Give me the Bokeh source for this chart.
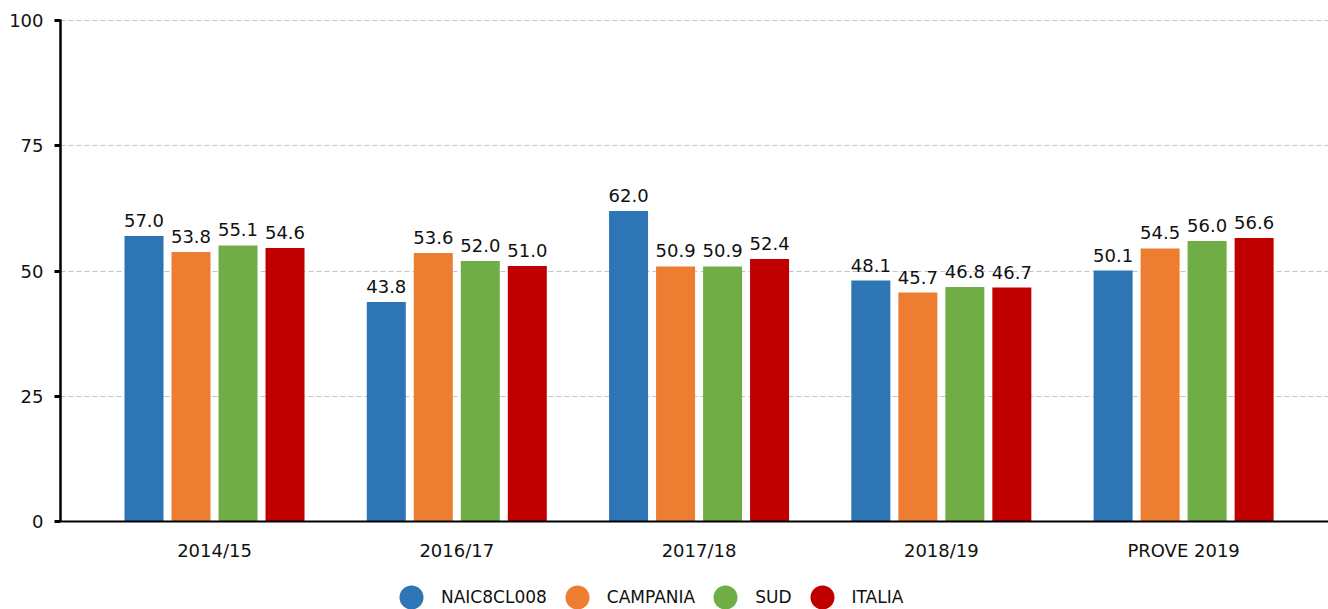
from bokeh.plotting import figure
from bokeh.models import (ColumnDataSource, Range1d, FixedTicker, Legend, LegendItem,
                          LabelSet)
from bokeh.core.properties import value
from bokeh.layouts import column
from bokeh.embed import file_html
from bokeh.resources import INLINE

categories = ["2014/15", "2016/17", "2017/18", "2018/19", "PROVE 2019"]
series_names = ["NAIC8CL008", "CAMPANIA", "SUD", "ITALIA"]
naic8cl008 = [57.0, 43.8, 62.0, 48.1, 50.1]
campania = [53.8, 53.6, 50.9, 45.7, 54.5]
sud = [55.1, 52.0, 50.9, 46.8, 56.0]
italia = [54.6, 51.0, 52.4, 46.7, 56.6]
y_ticks = [0, 25, 50, 75, 100]

colors = ["#2e75b6", "#ed7d31", "#70ad47", "#c00000"]
offsets = [-0.291, -0.097, 0.097, 0.291]
series_values = [naic8cl008, campania, sud, italia]

FONT = "DejaVu Sans"
FS = "18px"
TXT = "#111111"

idx = list(range(len(categories)))

p = figure(width=1328, height=565, output_backend="svg", toolbar_location=None,
           x_range=Range1d(-0.6357, 4.598), y_range=Range1d(0, 100.2),
           min_border_left=60, min_border_right=0, min_border_top=19, min_border_bottom=44)
p.outline_line_color = None

for name, vals, col, off in zip(series_names, series_values, colors, offsets):
    src = ColumnDataSource(dict(x=[i + off for i in idx], val=vals,
                                lbl=[f"{v:.1f}" for v in vals]))
    p.vbar(x="x", top="val", width=0.161, source=src, fill_color=col, line_color=None)
    p.add_layout(LabelSet(x="x", y="val", text="lbl", source=src, y_offset=9,
                          text_align="center", text_baseline="alphabetic",
                          text_font=value(FONT), text_font_size=value(FS),
                          text_color=value(TXT)))

p.yaxis.ticker = FixedTicker(ticks=y_ticks)
p.yaxis.axis_line_color = "black"
p.yaxis.axis_line_width = 2.5
p.yaxis.major_tick_line_color = "black"
p.yaxis.major_tick_line_width = 3
p.yaxis.major_tick_out = 6
p.yaxis.major_tick_in = 0
p.yaxis.minor_tick_line_color = None
p.yaxis.major_label_standoff = 11
p.yaxis.major_label_text_font = FONT
p.yaxis.major_label_text_font_size = FS
p.yaxis.major_label_text_color = TXT

p.xaxis.ticker = FixedTicker(ticks=idx)
p.xaxis.major_label_overrides = {i: c for i, c in zip(idx, categories)}
p.xaxis.axis_line_color = "black"
p.xaxis.axis_line_width = 2
p.xaxis.major_tick_line_color = None
p.xaxis.minor_tick_line_color = None
p.xaxis.major_label_standoff = 12
p.xaxis.major_label_text_font = FONT
p.xaxis.major_label_text_font_size = FS
p.xaxis.major_label_text_color = TXT

p.xgrid.grid_line_color = None
p.ygrid.ticker = FixedTicker(ticks=y_ticks)
p.ygrid.grid_line_color = "#c4c4c4"
p.ygrid.grid_line_dash = "5 3"
p.ygrid.grid_line_width = 1

# legend strip
lf = figure(width=1328, height=44, output_backend="svg", toolbar_location=None,
            x_axis_type=None, y_axis_type=None,
            x_range=Range1d(0, 1), y_range=Range1d(0, 1),
            min_border_left=0, min_border_right=0, min_border_top=0, min_border_bottom=0)
lf.outline_line_color = None
lf.xgrid.grid_line_color = None
lf.ygrid.grid_line_color = None
items = []
for name, col in zip(series_names, colors):
    r = lf.scatter(x=[0], y=[0], marker="circle", size=10, fill_color=col,
                   line_color=None, visible=False)
    items.append(LegendItem(label=name, renderers=[r]))
legend = Legend(items=items, location=(321, -18), orientation="horizontal",
                glyph_width=60, glyph_height=60, padding=0, margin=0, spacing=0,
                label_standoff=0, border_line_color=None, background_fill_alpha=0,
                inactive_fill_alpha=0,
                label_text_font=FONT, label_text_font_size="17px", label_text_color=TXT)
lf.add_layout(legend, "center")

layout = column(p, lf, spacing=0)
open("out.html", "w").write(file_html(layout, INLINE))
